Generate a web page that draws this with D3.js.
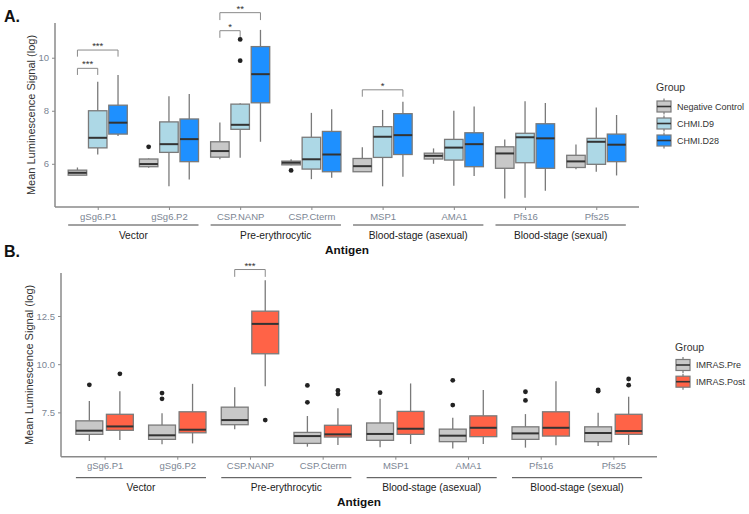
<!DOCTYPE html>
<html><head><meta charset="utf-8">
<script src="https://cdn.jsdelivr.net/npm/d3@7"></script>
<style>
html,body{margin:0;padding:0;background:#fff;}
svg{display:block;font-family:"Liberation Sans",Arial,sans-serif;}
</style></head>
<body><svg id="chart" width="749" height="514"></svg>
<script>
// ---------- DATA ----------
const antigens = ["gSg6.P1","gSg6.P2","CSP.NANP","CSP.Cterm","MSP1","AMA1","Pfs16","Pfs25"];
const antigenClasses = ["Vector","Pre-erythrocytic","Blood-stage (asexual)","Blood-stage (sexual)"];
const classMembers = [["gSg6.P1","gSg6.P2"],["CSP.NANP","CSP.Cterm"],["MSP1","AMA1"],["Pfs16","Pfs25"]];

// Panel A groups; stats per antigen: [lower whisker, Q1, median, Q3, upper whisker]
const groupsA = ["Negative Control","CHMI.D9","CHMI.D28"];
const colorsA = ["#c8c8c8","#add8e6","#1e90ff"];
const negControl = [
  [5.57,5.57,5.66,5.76,5.86],[5.85,5.89,5.99,6.18,6.2],[6.17,6.25,6.48,6.83,7.56],[5.94,5.96,6.04,6.10,6.17],
  [5.70,5.70,5.91,6.20,6.62],[6.0,6.18,6.30,6.40,6.58],[4.69,5.83,6.39,6.64,6.92],[5.79,5.86,6.09,6.32,6.73]];
const chmiD9 = [
  [6.35,6.60,6.98,8.00,9.09],[5.15,6.43,6.74,7.58,8.55],[6.23,7.30,7.47,8.25,8.28],[5.42,5.80,6.17,7.00,7.92],
  [5.15,6.24,7.02,7.40,8.03],[5.17,6.14,6.61,6.92,8.00],[4.72,6.04,7.00,7.15,8.36],[5.70,5.98,6.83,6.96,8.12]];
const chmiD28 = [
  [7.05,7.12,7.55,8.21,9.35],[5.41,6.08,6.93,7.69,8.63],[6.83,8.30,9.38,10.42,11.05],[5.47,5.70,6.35,7.22,8.06],
  [5.51,6.35,7.08,7.89,8.34],[5.54,5.89,6.74,7.17,8.16],[4.98,5.83,6.96,7.51,8.29],[5.56,6.08,6.72,7.12,7.84]];
const negControlOut = [[],[6.64],[],[5.75],[],[],[],[]];
const chmiD9Out = [[],[],[10.69,9.89],[],[],[],[],[]];
const chmiD28Out = [[],[],[],[],[],[],[],[]];
const ticksA = [6,8,10];
const domainA = [4.37,11.31];
// significance: antigen, group index from, group index to, bracket value, leg end value, label
const sigA = [
  ["gSg6.P1",0,1,9.60,9.35,"***"],
  ["gSg6.P1",0,2,10.29,10.04,"***"],
  ["CSP.NANP",0,1,11.02,10.75,"*"],
  ["CSP.NANP",0,2,11.70,11.42,"**"],
  ["MSP1",0,2,8.79,8.53,"*"]];

// Panel B groups
const groupsB = ["IMRAS.Pre","IMRAS.Post"];
const colorsB = ["#c8c8c8","#ff6347"];
const imrasPre = [
  [6.01,6.36,6.55,7.06,8.09],[5.84,6.10,6.31,6.84,7.45],[6.63,6.86,7.10,7.77,8.80],[5.72,5.89,6.27,6.46,7.31],
  [5.69,6.05,6.38,6.95,8.20],[5.63,5.98,6.29,6.63,7.22],[5.67,6.10,6.41,6.75,7.41],[5.75,5.98,6.43,6.75,7.48]];
const imrasPost = [
  [6.06,6.57,6.77,7.40,8.60],[5.89,6.44,6.60,7.53,8.98],[8.86,10.54,12.09,12.75,14.35],[5.81,6.22,6.36,6.83,7.71],
  [5.86,6.36,6.65,7.55,9.00],[5.86,6.24,6.70,7.32,8.66],[5.79,6.27,6.70,7.53,9.12],[5.81,6.36,6.53,7.40,8.31]];
const imrasPreOut = [[8.93],[8.50,8.20],[],[8.90,8.02],[8.52],[9.16,7.88],[8.57,8.12],[8.66,8.60]];
const imrasPostOut = [[9.50],[],[7.10],[8.64,8.45],[],[],[],[9.23,8.91]];
const ticksB = [7.5,10.0,12.5];
const domainB = [5.2,14.73];
const sigB = [["CSP.NANP",0,1,14.91,14.53,"***"]];

// ---------- DRAW ----------
const svg = d3.select("#chart");
const axisCol = "#8a8a8a", tickTextCol = "#7b8593", boxLine = "#7a7a7a";

function drawPanel(o){
  const g = svg.append("g");
  const x = d3.scalePoint().domain(antigens).range([o.left,o.right]).padding(0.6);
  const step = x.step();
  const y = d3.scaleLinear().domain(o.domain).range([o.bottom,o.top]);
  const k = o.series.length;
  const off = i => (i-(k-1)/2)*o.dodge*step;
  const bw = o.boxW*step;

  // brackets
  o.sig.forEach(s=>{
    const x1 = x(s[0])+off(s[1]), x2 = x(s[0])+off(s[2]);
    const yb = y(s[3]), yl = y(s[4]);
    g.append("path").attr("d",`M${x1},${yl}V${yb}H${x2}V${yl}`)
      .attr("fill","none").attr("stroke","#8a8a8a").attr("stroke-width",1);
    g.append("text").attr("x",(x1+x2)/2).attr("y",yb-1).attr("text-anchor","middle")
      .attr("font-size",9.5).attr("fill","#333").text(s[5]);
  });

  // boxes
  o.series.forEach((ser,i)=>{
    antigens.forEach((a,j)=>{
      const st = ser[j], cx = x(a)+off(i);
      g.append("line").attr("x1",cx).attr("x2",cx).attr("y1",y(st[0])).attr("y2",y(st[1]))
        .attr("stroke",boxLine).attr("stroke-width",1.3);
      g.append("line").attr("x1",cx).attr("x2",cx).attr("y1",y(st[3])).attr("y2",y(st[4]))
        .attr("stroke",boxLine).attr("stroke-width",1.3);
      g.append("rect").attr("x",cx-bw/2).attr("width",bw).attr("y",y(st[3]))
        .attr("height",Math.max(1,y(st[1])-y(st[3])))
        .attr("fill",o.colors[i]).attr("stroke",boxLine).attr("stroke-width",1.3);
      g.append("line").attr("x1",cx-bw/2).attr("x2",cx+bw/2).attr("y1",y(st[2])).attr("y2",y(st[2]))
        .attr("stroke","#333").attr("stroke-width",2);
      o.outliers[i][j].forEach(v=>{
        g.append("circle").attr("cx",cx).attr("cy",y(v)).attr("r",2.4).attr("fill","#222");
      });
    });
  });

  // axes
  const ya = g.append("g").attr("transform",`translate(${o.left},0)`)
    .call(d3.axisLeft(y).tickValues(o.ticks).tickSize(3).tickPadding(3).tickFormat(o.fmt));
  const xa = g.append("g").attr("transform",`translate(0,${o.bottom})`)
    .call(d3.axisBottom(x).tickSize(3).tickPadding(3));
  [ya,xa].forEach(ax=>{
    ax.select(".domain").attr("stroke",axisCol).attr("stroke-width",1.5);
    ax.selectAll(".tick line").attr("stroke",axisCol);
    ax.selectAll(".tick text").attr("fill",tickTextCol).attr("font-size",9.5)
      .attr("font-family","'Liberation Sans',Arial,sans-serif");
  });
  ya.select(".domain").attr("d",`M0,${o.top}V${o.bottom}`);
  xa.select(".domain").attr("d",`M${o.left},0H${o.right}`);

  // y title
  g.append("text").attr("transform",`translate(${o.ytitleX},${(o.top+o.bottom)/2}) rotate(-90)`)
    .attr("text-anchor","middle").attr("font-size",11).attr("fill","#333")
    .text("Mean Luminescence Signal (log)");

  // class underlines + labels
  antigenClasses.forEach((c,ci)=>{
    const m = classMembers[ci];
    const xa1 = x(m[0])+off(0)-bw/2, xa2 = x(m[1])+off(k-1)+bw/2;
    g.append("line").attr("x1",xa1).attr("x2",xa2).attr("y1",o.ulineY).attr("y2",o.ulineY)
      .attr("stroke","#444").attr("stroke-width",1);
    g.append("text").attr("x",(xa1+xa2)/2).attr("y",o.ulineY+13.5).attr("text-anchor","middle")
      .attr("font-size",10.2).attr("fill","#222").text(c);
  });
  g.append("text").attr("x",(o.left+o.right)/2).attr("y",o.antigenY).attr("text-anchor","middle")
    .attr("font-size",11.8).attr("font-weight","bold").attr("fill","#111").text("Antigen");

  // legend
  g.append("text").attr("x",o.legX).attr("y",o.legTitleY).attr("font-size",10.5).attr("fill","#333").text("Group");
  o.groups.forEach((gr,i)=>{
    const cy = o.legKeyY + i*o.legStep, kx = o.legX+1, kw=14, kcx = kx+kw/2;
    g.append("line").attr("x1",kcx).attr("x2",kcx).attr("y1",cy-8).attr("y2",cy+8).attr("stroke",boxLine).attr("stroke-width",1.2);
    g.append("rect").attr("x",kx).attr("y",cy-5.5).attr("width",kw).attr("height",11)
      .attr("fill",o.colors[i]).attr("stroke",boxLine).attr("stroke-width",1.2);
    g.append("line").attr("x1",kx).attr("x2",kx+kw).attr("y1",cy).attr("y2",cy).attr("stroke","#333").attr("stroke-width",1.6);
    g.append("text").attr("x",kx+kw+6).attr("y",cy+3.3).attr("font-size",9).attr("fill","#333").text(gr);
  });
}

drawPanel({left:55,right:639,top:23,bottom:207,domain:domainA,ticks:ticksA,fmt:d3.format("d"),
  series:[negControl,chmiD9,chmiD28],outliers:[negControlOut,chmiD9Out,chmiD28Out],colors:colorsA,groups:groupsA,
  dodge:0.285,boxW:0.26,sig:sigA,ytitleX:35,ulineY:225,antigenY:254,
  legX:656,legTitleY:91,legKeyY:106.5,legStep:17});
drawPanel({left:61,right:657,top:273,bottom:456.7,domain:domainB,ticks:ticksB,fmt:d3.format(".1f"),
  series:[imrasPre,imrasPost],outliers:[imrasPreOut,imrasPostOut],colors:colorsB,groups:groupsB,
  dodge:0.42,boxW:0.37,sig:sigB,ytitleX:33,ulineY:477.7,antigenY:506,
  legX:675,legTitleY:350.5,legKeyY:365,legStep:16.7});

svg.append("text").attr("x",4).attr("y",22).attr("font-size",16).attr("font-weight","bold").attr("fill","#111").text("A.");
svg.append("text").attr("x",4).attr("y",257).attr("font-size",16).attr("font-weight","bold").attr("fill","#111").text("B.");
</script></body></html>
